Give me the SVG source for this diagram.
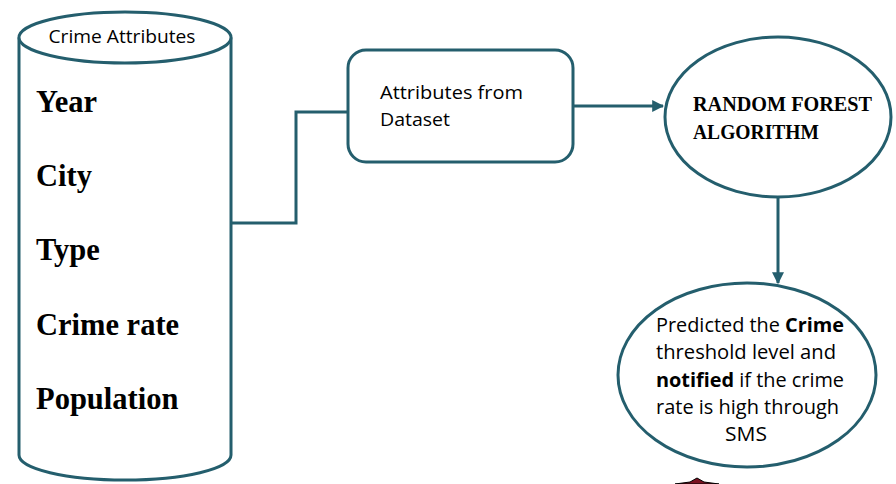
<svg xmlns="http://www.w3.org/2000/svg" width="896" height="484" viewBox="0 0 896 484">
<defs>
<style>
.s{fill:#fff;stroke:#245e6d;stroke-width:3}
.c{fill:none;stroke:#245e6d;stroke-width:3}
.t{font-family:"Open Sans","Noto Sans",sans-serif;fill:#000}
.b{font-family:"Liberation Serif",serif;font-weight:bold;font-size:30.5px;fill:#000}
.g{font-family:"Liberation Serif",serif;font-weight:bold;font-size:20px;fill:#000}
</style>
<marker id="ah" viewBox="0 0 10 10" refX="9" refY="5" markerWidth="4" markerHeight="4" orient="auto">
<path d="M0,0 L10,5 L0,10 z" fill="#245e6d"/>
</marker>
</defs>
<rect width="896" height="484" fill="#fff"/>
<g id="connectors">
<path class="c" d="M231,223 H296 V112 H348"/>
<path class="c" d="M574,106 H663" marker-end="url(#ah)"/>
<path class="c" d="M778,197 V283" marker-end="url(#ah)"/>
</g>
<g id="crime-attributes">
<path class="s" d="M19,37.5 V455 A106,25 0 0 0 231,455 V37.5"/>
<ellipse class="s" cx="125" cy="37.5" rx="106" ry="25.5"/>
<text class="t" x="122" y="43" font-size="18.5" textLength="147" lengthAdjust="spacingAndGlyphs" text-anchor="middle">Crime Attributes</text>
<text class="b" x="36" y="112">Year</text>
<text class="b" x="36" y="186">City</text>
<text class="b" x="36" y="260">Type</text>
<text class="b" x="36" y="335">Crime rate</text>
<text class="b" x="36" y="409">Population</text>
</g>
<g id="attributes-from-dataset">
<rect class="s" x="348" y="50" width="225" height="112" rx="18"/>
<text class="t" x="380" y="99" font-size="19" textLength="143" lengthAdjust="spacingAndGlyphs">Attributes from</text>
<text class="t" x="380" y="126" font-size="19" textLength="70" lengthAdjust="spacingAndGlyphs">Dataset</text>
</g>
<g id="random-forest">
<ellipse class="s" cx="778" cy="117" rx="113" ry="80"/>
<text class="g" x="693" y="111" textLength="179" lengthAdjust="spacingAndGlyphs">RANDOM FOREST</text>
<text class="g" x="693" y="139" textLength="126" lengthAdjust="spacingAndGlyphs">ALGORITHM</text>
</g>
<g id="prediction">
<ellipse class="s" cx="747" cy="375" rx="129" ry="92"/>
<text class="t" x="656" y="332" font-size="20" textLength="188" lengthAdjust="spacingAndGlyphs">Predicted the <tspan font-weight="bold">Crime</tspan></text>
<text class="t" x="656" y="359" font-size="20" textLength="180" lengthAdjust="spacingAndGlyphs">threshold level and</text>
<text class="t" x="656" y="387" font-size="20" textLength="188" lengthAdjust="spacingAndGlyphs"><tspan font-weight="bold">notified</tspan> if the crime</text>
<text class="t" x="656" y="414" font-size="20" textLength="183" lengthAdjust="spacingAndGlyphs">rate is high through</text>
<text class="t" x="725" y="441" font-size="20" textLength="42" lengthAdjust="spacingAndGlyphs">SMS</text>
</g>
<path d="M675,484 L690,482 L697,478 L704,482 L719,484 Z" fill="#7a1020" stroke="#000" stroke-width="1"/>
</svg>
